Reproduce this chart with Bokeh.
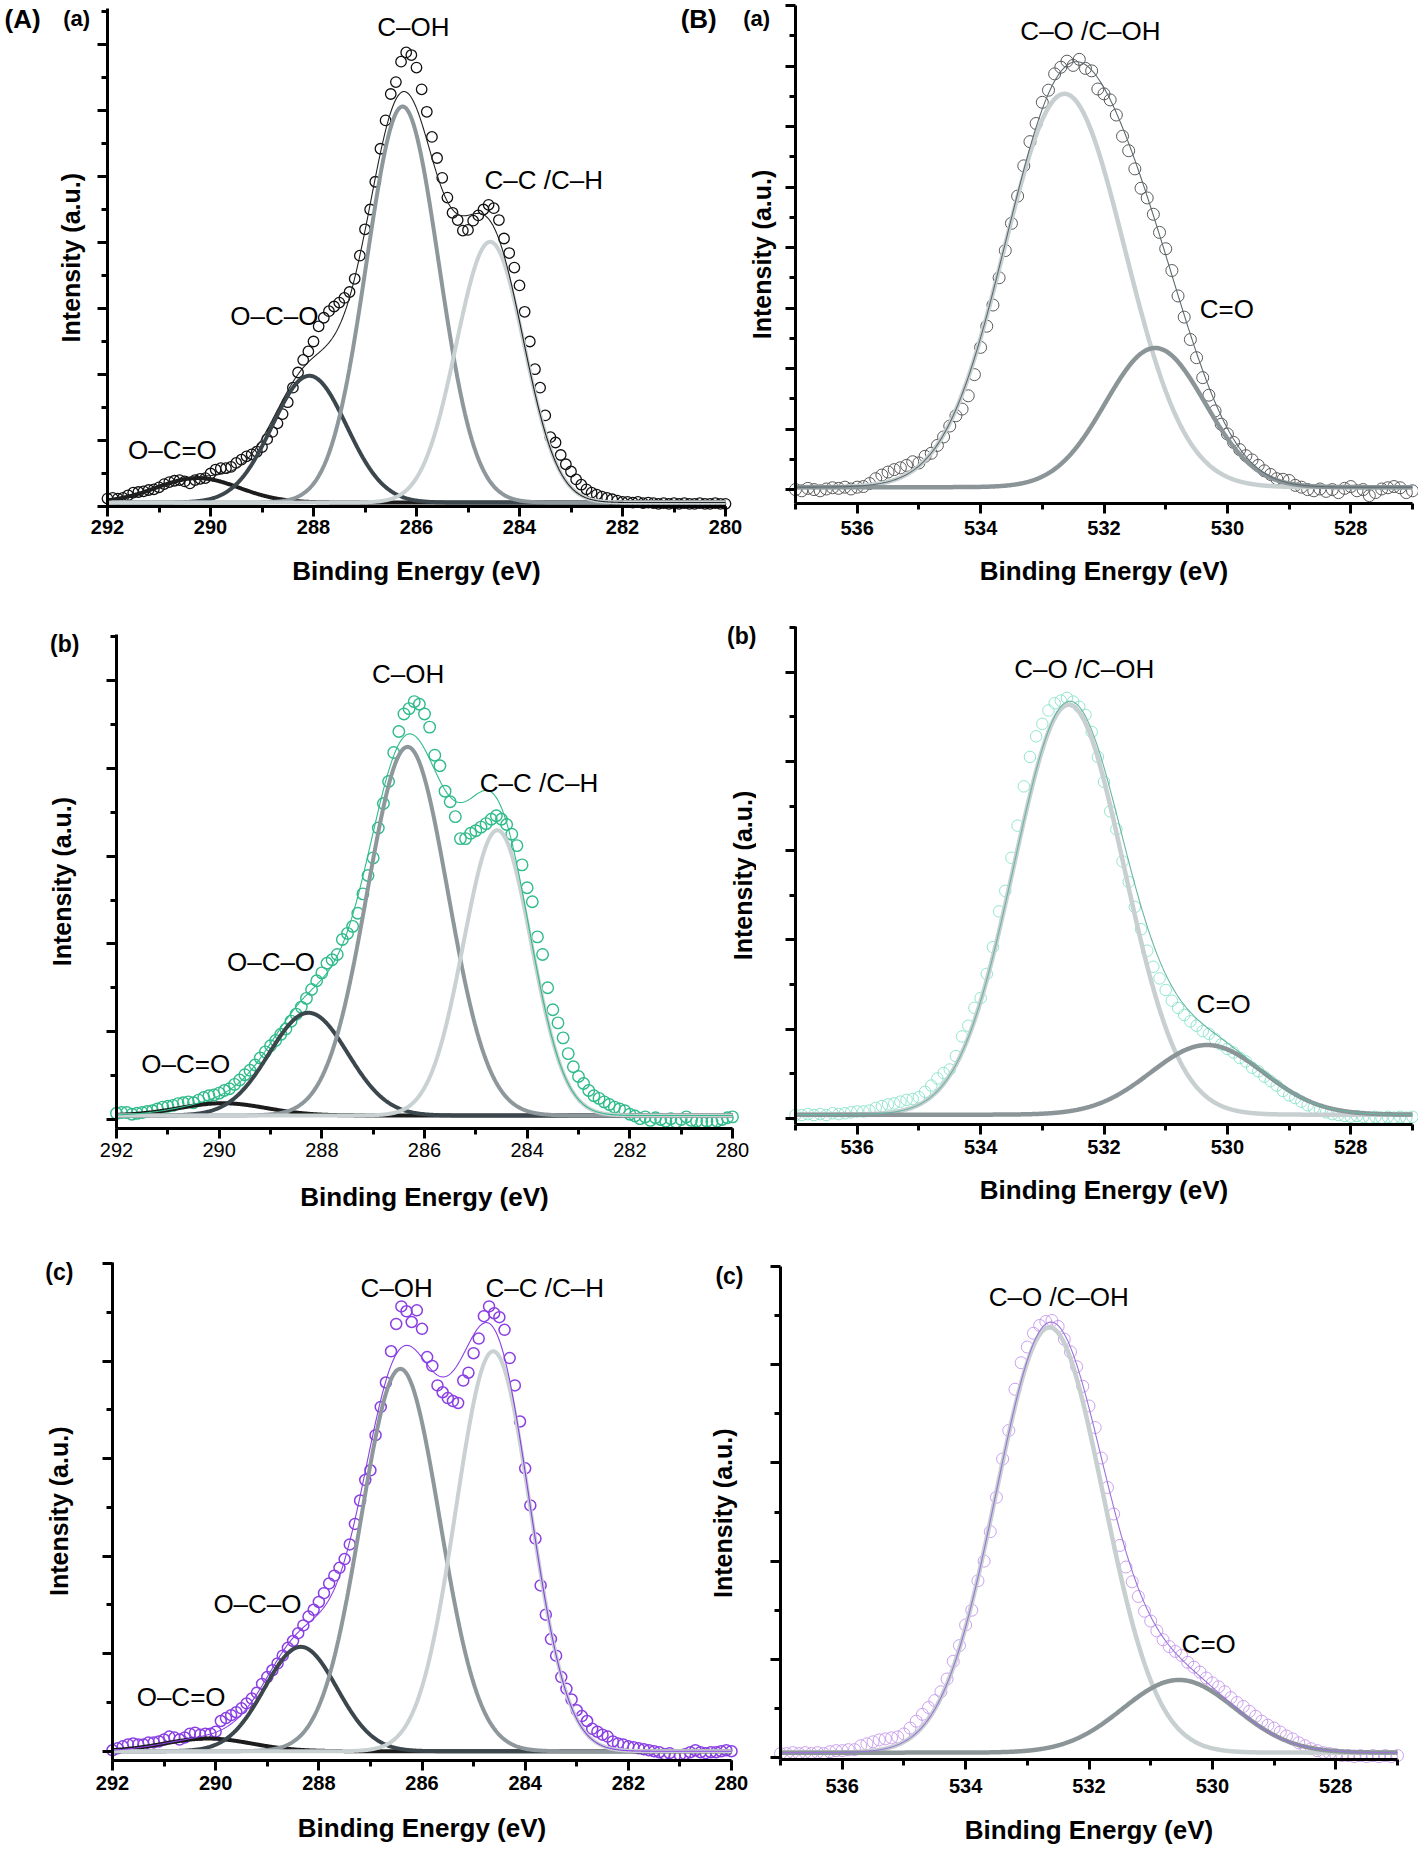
import numpy as np
from bokeh.plotting import figure
from bokeh.models import Range1d, SingleIntervalTicker, FixedTicker, Label, LinearAxis
from bokeh.layouts import row, column
from bokeh.embed import file_html
from bokeh.resources import INLINE

FONT = "Liberation Sans"

# ---------------- energy grids (0.1 eV steps, as recorded) ----------------
C1S_ENERGY = [round(292.0 - 0.1 * i, 1) for i in range(121)]   # 292.0 ... 280.0
O1S_ENERGY = [round(537.0 - 0.1 * i, 1) for i in range(101)]   # 537.0 ... 527.0

A_a_DATA = [0.12, 0.13, 0.12, 0.13, 0.17, 0.21, 0.22, 0.23, 0.25, 0.26,
            0.29, 0.34, 0.37, 0.39, 0.40, 0.38, 0.35, 0.40, 0.42, 0.43,
            0.50, 0.56, 0.58, 0.58, 0.60, 0.66, 0.71, 0.76, 0.79, 0.83,
            0.90, 1.02, 1.13, 1.26, 1.40, 1.58, 1.80, 2.03, 2.22, 2.35,
            2.50, 2.73, 2.86, 2.96, 3.03, 3.09, 3.16, 3.25, 3.45, 3.80,
            4.20, 4.50, 4.92, 5.42, 5.85, 6.25, 6.43, 6.74, 6.88, 6.84,
            6.65, 6.32, 5.98, 5.60, 5.28, 4.98, 4.68, 4.45, 4.34, 4.18,
            4.19, 4.33, 4.41, 4.50, 4.57, 4.52, 4.34, 4.06, 3.84, 3.62,
            3.35, 2.95, 2.50, 2.08, 1.80, 1.38, 1.05, 0.97, 0.78, 0.64,
            0.53, 0.41, 0.33, 0.26, 0.21, 0.18, 0.15, 0.13, 0.11, 0.09,
            0.07, 0.07, 0.06, 0.07, 0.05, 0.06, 0.05, 0.04, 0.05, 0.04,
            0.05, 0.04, 0.05, 0.04, 0.04, 0.05, 0.04, 0.04, 0.05, 0.04,
            0.04]
A_b_DATA = [0.07, 0.08, 0.08, 0.06, 0.07, 0.08, 0.09, 0.10, 0.12, 0.14,
            0.15, 0.16, 0.18, 0.19, 0.20, 0.19, 0.22, 0.25, 0.27, 0.28,
            0.30, 0.33, 0.35, 0.40, 0.45, 0.51, 0.56, 0.62, 0.70, 0.77,
            0.84, 0.90, 0.97, 1.03, 1.12, 1.20, 1.28, 1.38, 1.48, 1.58,
            1.67, 1.78, 1.82, 1.88, 2.05, 2.12, 2.20, 2.35, 2.57, 2.78,
            2.98, 3.32, 3.60, 3.85, 4.18, 4.42, 4.62, 4.68, 4.76, 4.73,
            4.62, 4.47, 4.15, 4.03, 3.74, 3.62, 3.45, 3.20, 3.20, 3.26,
            3.29, 3.33, 3.37, 3.42, 3.46, 3.42, 3.36, 3.25, 3.12, 2.90,
            2.64, 2.48, 2.08, 1.88, 1.50, 1.25, 1.10, 0.93, 0.75, 0.60,
            0.49, 0.41, 0.33, 0.27, 0.24, 0.20, 0.17, 0.14, 0.12, 0.10,
            0.06, 0.04, 0.01, 0.03, -0.01, 0.02, 0.00, -0.02, 0.01, -0.03,
            0.00, 0.03, -0.01, -0.02, -0.03, -0.02, -0.03, -0.02, 0.00, 0.02,
            0.03]
A_c_DATA = [0.01, 0.03, 0.05, 0.07, 0.08, 0.07, 0.07, 0.09, 0.09, 0.10,
            0.12, 0.15, 0.14, 0.12, 0.14, 0.18, 0.19, 0.17, 0.18, 0.18,
            0.20, 0.31, 0.34, 0.37, 0.40, 0.44, 0.49, 0.54, 0.60, 0.69,
            0.76, 0.83, 0.90, 0.98, 1.06, 1.13, 1.21, 1.29, 1.38, 1.45,
            1.53, 1.62, 1.72, 1.80, 1.88, 1.97, 2.12, 2.33, 2.57, 2.78,
            2.88, 3.24, 3.53, 3.78, 4.10, 4.38, 4.56, 4.51, 4.40, 4.52,
            4.33, 4.04, 3.95, 3.75, 3.68, 3.62, 3.59, 3.57, 3.80, 3.88,
            4.08, 4.23, 4.46, 4.56, 4.49, 4.45, 4.32, 4.03, 3.75, 3.38,
            2.90, 2.52, 2.18, 1.70, 1.40, 1.15, 0.98, 0.76, 0.64, 0.53,
            0.42, 0.36, 0.31, 0.23, 0.20, 0.17, 0.15, 0.10, 0.08, 0.07,
            0.05, 0.04, 0.03, 0.02, 0.01, 0.00, -0.01, -0.03, -0.02, -0.05,
            -0.04, -0.03, -0.01, 0.01, -0.01, -0.02, -0.01, -0.01, 0.00, 0.01,
            0.00]
B_a_DATA = [0.00, -0.02, 0.02, 0.00, -0.02, 0.01, 0.03, 0.02, 0.04, 0.01,
            0.04, 0.05, 0.10, 0.18, 0.24, 0.29, 0.33, 0.36, 0.40, 0.46,
            0.44, 0.55, 0.60, 0.73, 0.87, 1.05, 1.22, 1.33, 1.55, 1.90,
            2.35, 2.70, 3.05, 3.50, 3.95, 4.40, 4.85, 5.35, 5.75, 6.05,
            6.40, 6.60, 6.87, 6.98, 7.08, 7.01, 7.11, 6.96, 6.92, 6.62,
            6.54, 6.44, 6.19, 5.84, 5.60, 5.30, 4.98, 4.82, 4.55, 4.25,
            3.98, 3.62, 3.20, 2.85, 2.48, 2.18, 1.85, 1.56, 1.30, 1.08,
            0.92, 0.78, 0.66, 0.56, 0.49, 0.40, 0.31, 0.25, 0.18, 0.17,
            0.15, 0.07, 0.04, 0.00, -0.02, 0.01, -0.03, 0.00, -0.05, 0.02,
            0.05, -0.02, 0.00, -0.10, -0.05, 0.01, 0.03, 0.05, 0.03, -0.05,
            -0.02]
B_b_DATA = [0.04, 0.04, 0.05, 0.04, 0.05, 0.04, 0.06, 0.05, 0.06, 0.07,
            0.08, 0.08, 0.09, 0.12, 0.14, 0.16, 0.17, 0.19, 0.21, 0.22,
            0.24, 0.30, 0.37, 0.45, 0.51, 0.55, 0.70, 0.92, 1.04, 1.24,
            1.35, 1.62, 1.92, 2.32, 2.55, 2.92, 3.28, 3.72, 4.05, 4.28,
            4.42, 4.57, 4.65, 4.68, 4.71, 4.67, 4.61, 4.52, 4.33, 4.05,
            3.77, 3.44, 3.24, 2.88, 2.65, 2.37, 2.12, 1.88, 1.70, 1.57,
            1.44, 1.32, 1.24, 1.16, 1.09, 1.04, 0.98, 0.95, 0.89, 0.83,
            0.78, 0.74, 0.68, 0.64, 0.57, 0.53, 0.47, 0.42, 0.37, 0.31,
            0.26, 0.23, 0.19, 0.15, 0.12, 0.10, 0.07, 0.05, 0.04, 0.03,
            0.02, 0.03, 0.02, 0.01, 0.02, 0.01, 0.02, 0.01, 0.02, 0.01,
            0.02]
B_c_DATA = [0.04, 0.04, 0.05, 0.04, 0.05, 0.04, 0.05, 0.04, 0.06, 0.07,
            0.07, 0.08, 0.08, 0.12, 0.14, 0.16, 0.18, 0.19, 0.20, 0.21,
            0.24, 0.30, 0.37, 0.44, 0.51, 0.58, 0.67, 0.80, 0.98, 1.14,
            1.35, 1.50, 1.80, 2.00, 2.30, 2.65, 3.04, 3.33, 3.75, 4.02,
            4.18, 4.32, 4.40, 4.44, 4.45, 4.39, 4.26, 4.13, 3.98, 3.78,
            3.58, 3.36, 3.05, 2.75, 2.48, 2.16, 1.94, 1.79, 1.64, 1.49,
            1.39, 1.29, 1.20, 1.13, 1.08, 1.04, 0.97, 0.92, 0.87, 0.81,
            0.76, 0.72, 0.67, 0.61, 0.56, 0.52, 0.47, 0.42, 0.37, 0.33,
            0.30, 0.26, 0.22, 0.19, 0.15, 0.12, 0.09, 0.07, 0.05, 0.04,
            0.03, 0.02, 0.02, 0.01, 0.02, 0.01, 0.02, 0.01, 0.02, 0.01,
            0.02]

# ---------------- fitted components (Gaussian peaks) ----------------
C1S_COMPONENTS = ["O\u2013C=O", "O\u2013C\u2013O", "C\u2013OH", "C\u2013C /C\u2013H"]
C1S_COMP_COLORS = ["#1c1c1c", "#3b474c", "#8e979b", "#c9d1d3"]
A_a_CENTER = [290.25, 288.08, 286.27, 284.57]
A_a_HEIGHT = [0.37, 1.92, 6.00, 3.95]
A_a_FWHM = [1.90, 1.70, 1.65, 1.55]
A_a_BASE = 0.06
A_b_CENTER = [289.93, 288.26, 286.33, 284.58]
A_b_HEIGHT = [0.14, 1.17, 4.20, 3.25]
A_b_FWHM = [2.00, 1.80, 1.85, 1.55]
A_b_BASE = 0.045
A_c_CENTER = [290.15, 288.35, 286.42, 284.62]
A_c_HEIGHT = [0.13, 1.07, 3.92, 4.10]
A_c_FWHM = [2.00, 1.65, 1.80, 1.70]
A_c_BASE = 0.0

O1S_COMPONENTS = ["C\u2013O /C\u2013OH", "C=O"]
O1S_COMP_COLORS = ["#c7cfd0", "#8b9598"]
B_a_CENTER = [532.64, 531.17]
B_a_HEIGHT = [6.50, 2.30]
B_a_FWHM = [2.30, 1.90]
B_a_BASE = 0.04
B_b_CENTER = [532.57, 530.33]
B_b_HEIGHT = [4.59, 0.78]
B_b_FWHM = [2.10, 2.15]
B_b_BASE = 0.044
B_c_CENTER = [532.64, 530.54]
B_c_HEIGHT = [4.33, 0.74]
B_c_FWHM = [2.05, 2.15]
B_c_BASE = 0.05

X_TITLE = "Binding Energy (eV)"
Y_TITLE = "Intensity (a.u.)"


def gauss(x, c, h, w):
    return h * np.exp(-4.0 * np.log(2.0) * ((x - c) / w) ** 2)


def make_panel(W, H, axes_px, xlim, ylim, tick_bold, xtick_std):
    """Figure whose frame fills the canvas; axes sit at fixed data locations."""
    axL, axR, axT, axB = axes_px
    xl, xr = xlim
    yb, yt = ylim
    kx = (axR - axL) / (xl - xr)
    ky = (axB - axT) / (yt - yb)
    p = figure(width=W, height=H,
               x_range=Range1d(xl + axL / kx, xr - (W - axR) / kx),
               y_range=Range1d(yb - (H - axB) / ky, yt + axT / ky),
               output_backend="svg", toolbar_location=None, title=None,
               min_border=0)
    p.xgrid.visible = False
    p.ygrid.visible = False
    p.outline_line_color = None
    p.background_fill_color = "white"
    p.border_fill_color = "white"

    xa = p.xaxis[0]
    xa.fixed_location = yb
    xa.bounds = (min(xl, xr), max(xl, xr))
    xa.ticker = SingleIntervalTicker(interval=2, num_minor_ticks=2)
    xa.major_label_text_font = FONT
    xa.major_label_text_font_size = "20px"
    xa.major_label_text_font_style = "bold" if tick_bold else "normal"
    xa.major_label_text_color = "black"
    xa.major_label_standoff = xtick_std

    ya = p.yaxis[0]
    majors = [float(v) for v in range(int(np.ceil(yb)), int(np.floor(yt)) + 1)]
    minors = [v + 0.5 for v in range(int(np.floor(yb)), int(np.floor(yt)) + 1)
              if yb <= v + 0.5 <= yt]
    ya.fixed_location = xl
    ya.bounds = (yb, yt)
    ya.ticker = FixedTicker(ticks=[], minor_ticks=majors)
    ya2 = LinearAxis(ticker=FixedTicker(ticks=[], minor_ticks=minors),
                     fixed_location=xl, bounds=(yb, yt), axis_line_color=None)
    p.add_layout(ya2, "left")

    for ax in (xa, ya, ya2):
        ax.major_tick_line_width = 3
        ax.minor_tick_line_width = 3
        ax.major_tick_line_color = "black"
        ax.minor_tick_line_color = "black"
        ax.major_tick_in = 0
        ax.minor_tick_in = 0
        ax.major_tick_out = 10
        ax.minor_tick_out = 6
    ya.minor_tick_out = 10            # integer positions: long ticks
    for ax in (xa, ya):
        ax.axis_line_width = 3
        ax.axis_line_color = "black"
    return p


def draw_spectrum(p, energy, data, grid, base, centers, heights, fwhms, comp_colors,
                  pt_color, pt_size, pt_lw, env_color, comp_lw):
    p.scatter(x=energy, y=data, marker="circle", size=pt_size, fill_color=None,
              line_color=pt_color, line_width=pt_lw)
    total = np.full_like(grid, base)
    for c, h, w, col in zip(centers, heights, fwhms, comp_colors):
        comp = gauss(grid, c, h, w)
        total = total + comp
        p.line(grid, base + comp, line_color=col, line_width=comp_lw)
    p.line(grid, total, line_color=env_color, line_width=1.1)


def add_text(p, x, y, text, size="26px", bold=False, angle=0):
    p.add_layout(Label(x=x, y=y, text=text, text_font=FONT, text_font_size=size,
                       text_font_style="bold" if bold else "normal",
                       text_align="center", text_baseline="middle",
                       text_color="black", angle=angle, angle_units="deg"))


c1s_grid = np.linspace(292.0, 280.0, 900)
o1s_grid = np.linspace(537.0, 527.0, 900)

# ================= row 1 (page y 0-600) =================
pAa = make_panel(743, 600, (107, 725, 8, 506), (292, 280), (0.0, 7.545), True, 3)
draw_spectrum(pAa, C1S_ENERGY, A_a_DATA, c1s_grid, A_a_BASE, A_a_CENTER, A_a_HEIGHT,
              A_a_FWHM, C1S_COMP_COLORS, "#111111", 10.5, 1.3, "#222222", 4)
add_text(pAa, 293.65, 7.39, "(A)", "26px", True)
add_text(pAa, 292.60, 7.39, "(a)", "22px", True)
add_text(pAa, 280.52, 7.39, "(B)", "26px", True)
add_text(pAa, 286.06, 7.26, C1S_COMPONENTS[2])
add_text(pAa, 283.53, 4.95, C1S_COMPONENTS[3])
add_text(pAa, 288.76, 2.89, C1S_COMPONENTS[1])
add_text(pAa, 290.74, 0.85, C1S_COMPONENTS[0])
add_text(pAa, 286.0, -0.98, X_TITLE, "26px", True)
add_text(pAa, 292.70, 3.77, Y_TITLE, "25px", True, 90)

pBa = make_panel(675, 600, (52, 669, 5, 503), (537, 527), (-0.23, 8.0), True, 7)
draw_spectrum(pBa, O1S_ENERGY, B_a_DATA, o1s_grid, B_a_BASE, B_a_CENTER, B_a_HEIGHT,
              B_a_FWHM, O1S_COMP_COLORS, "#5a5a5a", 12, 1.0, "#5d6b70", 4.5)
add_text(pBa, 537.63, 7.79, "(a)", "22px", True)
add_text(pBa, 532.22, 7.58, O1S_COMPONENTS[0])
add_text(pBa, 530.01, 2.98, O1S_COMPONENTS[1])
add_text(pBa, 532.0, -1.347, X_TITLE, "26px", True)
add_text(pBa, 537.55, 3.886, Y_TITLE, "25px", True, 90)

# ================= row 2 (page y 600-1220) =================
pAb = make_panel(756, 620, (116, 732, 34, 528), (292, 280), (-0.103, 5.525), False, 4)
draw_spectrum(pAb, C1S_ENERGY, A_b_DATA, c1s_grid, A_b_BASE, A_b_CENTER, A_b_HEIGHT,
              A_b_FWHM, C1S_COMP_COLORS, "#2fbb8a", 11.5, 1.4, "#2fbb8a", 4)
add_text(pAb, 293.01, 5.42, "(b)", "23px", True)
add_text(pAb, 286.32, 5.08, C1S_COMPONENTS[2])
add_text(pAb, 283.77, 3.83, C1S_COMPONENTS[3])
add_text(pAb, 288.99, 1.79, C1S_COMPONENTS[1])
add_text(pAb, 290.65, 0.63, C1S_COMPONENTS[0])
add_text(pAb, 286.0, -0.878, X_TITLE, "26px", True)
add_text(pAb, 293.07, 2.71, Y_TITLE, "25px", True, 90)
# label and axis title of the neighbouring O 1s panel (b), which sit left of its axis
add_text(pAb, 279.82, 5.51, "(b)", "23px", True)
add_text(pAb, 279.80, 2.78, Y_TITLE, "25px", True, 90)

pBb = make_panel(662, 620, (39, 656, 26, 524), (537, 527), (-0.066, 5.51), True, 5)
draw_spectrum(pBb, O1S_ENERGY, B_b_DATA, o1s_grid, B_b_BASE, B_b_CENTER, B_b_HEIGHT,
              B_b_FWHM, O1S_COMP_COLORS, "#86e3c8", 11.5, 0.9, "#69b5a3", 4.5)
add_text(pBb, 532.32, 5.03, O1S_COMPONENTS[0])
add_text(pBb, 530.06, 1.28, O1S_COMPONENTS[1])
add_text(pBb, 532.0, -0.80, X_TITLE, "26px", True)

# ================= row 3 (page y 1220-1849) =================
pAc = make_panel(748, 629, (112, 731, 42, 540), (292, 280), (-0.095, 5.01), True, 5)
draw_spectrum(pAc, C1S_ENERGY, A_c_DATA, c1s_grid, A_c_BASE, A_c_CENTER, A_c_HEIGHT,
              A_c_FWHM, C1S_COMP_COLORS, "#8a3fe3", 11, 1.5, "#8a3fe3", 4)
add_text(pAc, 293.03, 4.91, "(c)", "23px", True)
add_text(pAc, 286.49, 4.75, C1S_COMPONENTS[2])
add_text(pAc, 283.62, 4.75, C1S_COMPONENTS[3])
add_text(pAc, 289.19, 1.51, C1S_COMPONENTS[1])
add_text(pAc, 290.67, 0.56, C1S_COMPONENTS[0])
add_text(pAc, 286.0, -0.79, X_TITLE, "26px", True)
add_text(pAc, 293.03, 2.46, Y_TITLE, "25px", True, 90)
# label and axis title of the neighbouring O 1s panel (c)
add_text(pAc, 280.04, 4.87, "(c)", "23px", True)
add_text(pAc, 280.17, 2.44, Y_TITLE, "25px", True, 90)

pBc = make_panel(668, 629, (32, 649, 46, 539), (537, 527), (-0.02, 5.0), True, 9)
draw_spectrum(pBc, O1S_ENERGY, B_c_DATA, o1s_grid, B_c_BASE, B_c_CENTER, B_c_HEIGHT,
              B_c_FWHM, O1S_COMP_COLORS, "#c596ec", 12, 0.9, "#9a74d8", 4.5)
add_text(pBc, 532.49, 4.69, O1S_COMPONENTS[0])
add_text(pBc, 530.06, 1.16, O1S_COMPONENTS[1])
add_text(pBc, 532.0, -0.74, X_TITLE, "26px", True)

layout = column(row(pAa, pBa, spacing=0),
                row(pAb, pBb, spacing=0),
                row(pAc, pBc, spacing=0), spacing=0)

open("out.html", "w").write(file_html(layout, INLINE))
